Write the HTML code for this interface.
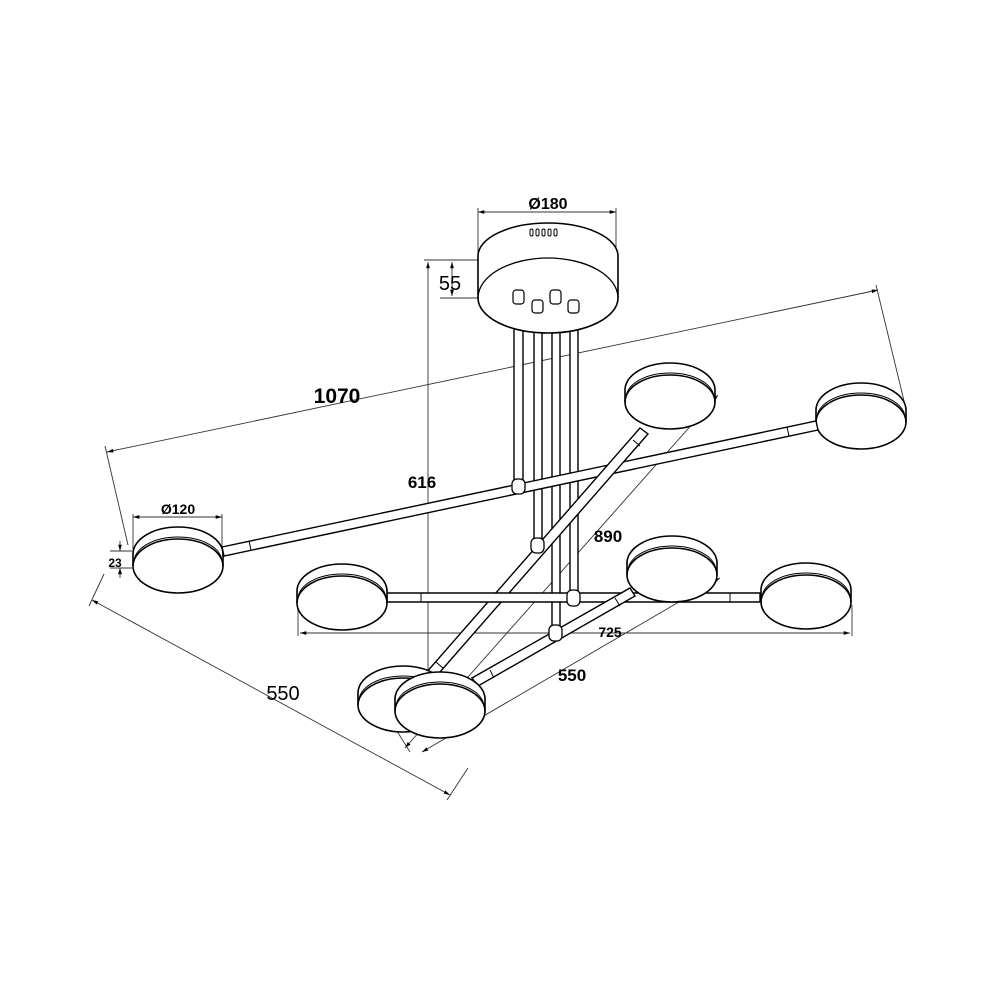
<!DOCTYPE html>
<html><head><meta charset="utf-8"><style>
html,body{margin:0;padding:0;background:#fff}
svg{display:block}
text{font-family:"Liberation Sans",Arial,sans-serif;fill:#000}
.b{font-weight:bold}
</style></head><body>
<svg width="1000" height="1000" viewBox="0 0 1000 1000" xmlns="http://www.w3.org/2000/svg">
<defs>
<marker id="a" viewBox="0 0 10 10" refX="10" refY="5" markerWidth="7" markerHeight="7" orient="auto-start-reverse"><path d="M0,2 L10,5 L0,8 z" fill="#000"/></marker>
<g id="lamp">
 <path d="M-45,-7 A45,27 0 0 1 45,-7 L45,5 A45,27 0 0 1 -45,5 Z" fill="#fff" stroke="#000" stroke-width="1.6"/>
 <path d="M-45,5 A45,27 0 0 1 45,5" fill="none" stroke="#000" stroke-width="1.6"/>
 <path d="M-44,1 A44,25 0 0 1 44,1" fill="none" stroke="#000" stroke-width="1"/>
</g>
</defs>
<g fill="none" stroke="#333" stroke-width="0.9">
 <line x1="478" y1="208" x2="478" y2="255"/><line x1="616" y1="208" x2="616" y2="255"/>
 <line x1="478" y1="212" x2="616" y2="212" marker-start="url(#a)" marker-end="url(#a)"/>
 <line x1="424" y1="260" x2="478" y2="260"/><line x1="440" y1="298" x2="478" y2="298"/>
 <line x1="452" y1="262" x2="452" y2="296" marker-start="url(#a)" marker-end="url(#a)"/>
 <line x1="428" y1="262" x2="428" y2="690" marker-start="url(#a)"/>
 <line x1="428" y1="692" x2="470" y2="692"/>
 <line x1="107" y1="452" x2="878" y2="290" marker-start="url(#a)" marker-end="url(#a)"/>
 <line x1="105" y1="446" x2="128" y2="545"/><line x1="876" y1="285" x2="905" y2="405"/>
 <line x1="133" y1="514" x2="133" y2="550"/><line x1="222" y1="514" x2="222" y2="550"/>
 <line x1="133" y1="517" x2="222" y2="517" marker-start="url(#a)" marker-end="url(#a)"/>
 <line x1="110" y1="551" x2="132" y2="551"/><line x1="110" y1="568" x2="132" y2="568"/>
 <line x1="120" y1="541" x2="120" y2="551" marker-end="url(#a)"/><line x1="120" y1="578" x2="120" y2="568" marker-end="url(#a)"/>
 <line x1="92" y1="600" x2="450" y2="795" marker-start="url(#a)" marker-end="url(#a)"/>
 <line x1="89" y1="606" x2="104" y2="574"/><line x1="447" y1="800" x2="468" y2="768"/>
 <line x1="298" y1="605" x2="298" y2="636"/><line x1="852" y1="605" x2="852" y2="636"/>
 <line x1="300" y1="633" x2="850" y2="633" marker-start="url(#a)" marker-end="url(#a)"/>
 <line x1="405" y1="748" x2="718" y2="395" marker-start="url(#a)" marker-end="url(#a)"/>
 <line x1="422" y1="752" x2="720" y2="578" marker-start="url(#a)" marker-end="url(#a)"/>
 <line x1="395" y1="728" x2="410" y2="752"/>
</g>
<g fill="#fff" stroke="#000" stroke-width="1.4">
 <rect x="514" y="300" width="9" height="192"/>
 <rect x="534" y="305" width="8" height="245"/>
 <rect x="552" y="300" width="8" height="337"/>
 <rect x="570" y="305" width="8" height="295"/>
</g>
<g stroke="#000" stroke-width="1.6" fill="#fff">
 <path d="M478,256 A70,33 0 0 1 618,256 L618,298 A70,35 0 0 1 478,298 Z"/>
 <path d="M478,298 A70,40 0 0 1 618,298" fill="none" stroke-width="1.3"/>
 <g stroke-width="1.2">
  <rect x="513" y="290" width="11" height="14" rx="3"/>
  <rect x="532" y="300" width="11" height="13" rx="3"/>
  <rect x="550" y="290" width="11" height="14" rx="3"/>
  <rect x="568" y="300" width="11" height="13" rx="3"/>
 </g>
 <g stroke-width="1" fill="none">
  <rect x="530" y="229" width="3" height="7" rx="1.5"/><rect x="536" y="229" width="3" height="7" rx="1.5"/>
  <rect x="542" y="229" width="3" height="7" rx="1.5"/><rect x="548" y="229" width="3" height="7" rx="1.5"/>
  <rect x="554" y="229" width="3" height="7" rx="1.5"/>
 </g>
</g>
<use href="#lamp" x="670" y="397"/>
<use href="#lamp" x="861" y="417"/>
<g stroke="#000" stroke-width="1.4" fill="#fff">
 <path d="M222,547 L816,421 L818,430 L224,556 Z"/>
 <path d="M640,428 L648,434 L433,680 L425,674 Z"/>
 <path d="M387,593 L760,593 L760,602 L387,602 Z"/>
 <path d="M630,588 L635,596 L478,686 L472,678 Z"/>
</g>
<g stroke="#000" stroke-width="1" fill="none">
 <line x1="249" y1="541" x2="251" y2="550"/><line x1="787" y1="427" x2="789" y2="436"/>
 <line x1="421" y1="593" x2="421" y2="602"/><line x1="730" y1="593" x2="730" y2="602"/>
 <line x1="436" y1="662" x2="443" y2="668"/><line x1="490" y1="670" x2="494" y2="678"/>
 <line x1="633" y1="440" x2="640" y2="446"/><line x1="615" y1="598" x2="620" y2="606"/>
</g>
<g stroke="#000" stroke-width="1.3" fill="#fff">
 <rect x="512" y="479" width="13" height="15" rx="5"/>
 <rect x="531" y="538" width="13" height="15" rx="5"/>
 <rect x="567" y="590" width="13" height="16" rx="5"/>
 <rect x="549" y="625" width="13" height="16" rx="5"/>
</g>
<use href="#lamp" x="178" y="561"/>
<use href="#lamp" x="342" y="598"/>
<use href="#lamp" x="672" y="570"/>
<use href="#lamp" x="806" y="597"/>
<use href="#lamp" x="403" y="700"/>
<use href="#lamp" x="440" y="706"/>
<text x="548" y="209" class="b" font-size="16" text-anchor="middle">Ø180</text>
<text x="450" y="290" font-size="20" text-anchor="middle">55</text>
<text x="422" y="488" class="b" font-size="17" text-anchor="middle">616</text>
<text x="337" y="403" class="b" font-size="21" text-anchor="middle">1070</text>
<text x="178" y="514" class="b" font-size="14" text-anchor="middle">Ø120</text>
<text x="115" y="567" class="b" font-size="12" text-anchor="middle">23</text>
<text x="283" y="700" font-size="20" text-anchor="middle">550</text>
<text x="610" y="637" class="b" font-size="14" text-anchor="middle">725</text>
<text x="572" y="681" class="b" font-size="17" text-anchor="middle">550</text>
<text x="608" y="542" class="b" font-size="17" text-anchor="middle">890</text>
</svg>
</body></html>
